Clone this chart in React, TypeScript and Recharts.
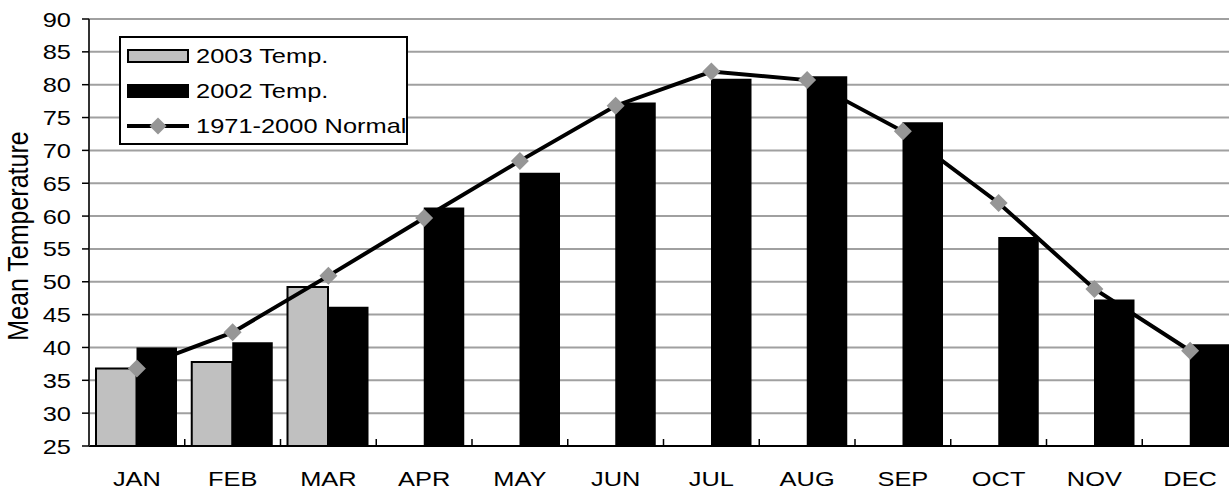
import { ComposedChart, Bar, Line, XAxis, YAxis, CartesianGrid, Legend } from "recharts"

const months = ["JAN", "FEB", "MAR", "APR", "MAY", "JUN", "JUL", "AUG", "SEP", "OCT", "NOV", "DEC"]
const temp2003 = [36.8, 37.8, 49.2, null, null, null, null, null, null, null, null, null]
const temp2002 = [40.0, 40.8, 46.2, 61.3, 66.6, 77.3, 80.9, 81.3, 74.3, 56.8, 47.3, 40.5]
const normal = [36.8, 42.3, 50.9, 59.7, 68.4, 76.8, 82.0, 80.7, 72.9, 62.0, 48.9, 39.5]
const yTicks = [25, 30, 35, 40, 45, 50, 55, 60, 65, 70, 75, 80, 85, 90]

const NAME_2003 = "2003 Temp."
const NAME_2002 = "2002 Temp."
const NAME_NORMAL = "1971-2000 Normal"

const data = months.map((m, i) => ({
  month: m,
  t2003: temp2003[i],
  t2002: temp2002[i],
  normal: normal[i],
}))

const FONT = "'Liberation Sans', Arial, sans-serif"
const STRETCH = 1.21
const BAND = 1149 / 12

function diamondPath(cx: number, cy: number, r: number) {
  return `M${cx},${cy - r}L${cx + r},${cy}L${cx},${cy + r}L${cx - r},${cy}Z`
}

const YTick = (props: any) => {
  const { x, y, payload } = props
  return (
    <text
      transform={`translate(${x},${y}) scale(${STRETCH},1)`}
      textAnchor="end"
      dy="0.36em"
      fontSize={21}
      fontFamily={FONT}
      fill="#000"
    >
      {payload.value}
    </text>
  )
}

const XTick = (props: any) => {
  const { x, y, payload } = props
  return (
    <g>
      <line x1={x + BAND / 2} x2={x + BAND / 2} y1={y} y2={y - 7} stroke="#000" strokeWidth={1.5} />
      <text
        transform={`translate(${x},${y + 40}) scale(${STRETCH},1)`}
        textAnchor="middle"
        fontSize={21}
        fontFamily={FONT}
        fill="#000"
      >
        {payload.value}
      </text>
    </g>
  )
}

const Diamond = (props: any) => {
  const { cx, cy, index } = props
  if (cx == null || cy == null) return <g key={index} />
  return <path key={index} d={diamondPath(cx, cy, 9)} fill="#969696" />
}

const legendText = (label: string) => (
  <span
    style={{
      display: "inline-block",
      transform: `scaleX(${STRETCH})`,
      transformOrigin: "left center",
      fontSize: 21,
      fontFamily: FONT,
      whiteSpace: "nowrap",
    }}
  >
    {label}
  </span>
)

const renderLegend = () => (
  <div
    style={{
      width: 289,
      border: "2px solid #000",
      background: "#fff",
      padding: "0 0 0 6px",
      boxSizing: "border-box",
    }}
  >
    <div style={{ height: 35, display: "flex", alignItems: "center" }}>
      <div style={{ width: 62, height: 14, background: "#c0c0c0", border: "2px solid #000", boxSizing: "border-box", marginRight: 7 }} />
      {legendText(NAME_2003)}
    </div>
    <div style={{ height: 35, display: "flex", alignItems: "center" }}>
      <div style={{ width: 62, height: 14, background: "#000", marginRight: 7 }} />
      {legendText(NAME_2002)}
    </div>
    <div style={{ height: 35, display: "flex", alignItems: "center" }}>
      <svg width={62} height={20} style={{ marginRight: 7 }}>
        <line x1={0} x2={62} y1={10} y2={10} stroke="#000" strokeWidth={4} />
        <path d={diamondPath(31, 10, 8.5)} fill="#969696" />
      </svg>
      {legendText(NAME_NORMAL)}
    </div>
  </div>
)

export default function App() {
  return (
    <div style={{ position: "absolute", left: 0, top: 0, width: 1229, height: 495, overflow: "hidden", background: "#fff" }}>
      <ComposedChart
        width={1240}
        height={495}
        data={data}
        margin={{ top: 19, right: 2, bottom: 0, left: 0 }}
        barGap={0}
      >
        <CartesianGrid horizontal vertical={false} stroke="#a0a0a0" strokeWidth={2} />
        <XAxis
          dataKey="month"
          height={49}
          tickSize={0}
          tickMargin={0}
          tickLine={false}
          axisLine={{ stroke: "#000", strokeWidth: 2 }}
          tick={<XTick />}
          interval={0}
        />
        <YAxis
          width={89}
          domain={[25, 90]}
          ticks={yTicks}
          interval={0}
          tickSize={7}
          tickMargin={11}
          tickLine={{ stroke: "#000", strokeWidth: 1.5 }}
          axisLine={{ stroke: "#333", strokeWidth: 2 }}
          tick={<YTick />}
          label={{
            content: () => (
              <text
                transform={`translate(28,236) scale(${STRETCH},1) rotate(-90)`}
                textAnchor="middle"
                fontSize={25}
                fontFamily={FONT}
                fill="#000"
              >
                Mean Temperature
              </text>
            ),
          }}
        />
        <Legend
          layout="vertical"
          align="center"
          verticalAlign="middle"
          wrapperStyle={{ left: 119, top: 36, width: 289 }}
          content={renderLegend}
        />
        <Bar dataKey="t2003" name={NAME_2003} barSize={40.5} fill="#c0c0c0" stroke="#000" strokeWidth={2} isAnimationActive={false} />
        <Bar dataKey="t2002" name={NAME_2002} barSize={40.5} fill="#000" isAnimationActive={false} />
        <Line
          dataKey="normal"
          name={NAME_NORMAL}
          type="linear"
          stroke="#000"
          strokeWidth={4}
          dot={<Diamond />}
          activeDot={false}
          isAnimationActive={false}
        />
      </ComposedChart>
    </div>
  )
}
